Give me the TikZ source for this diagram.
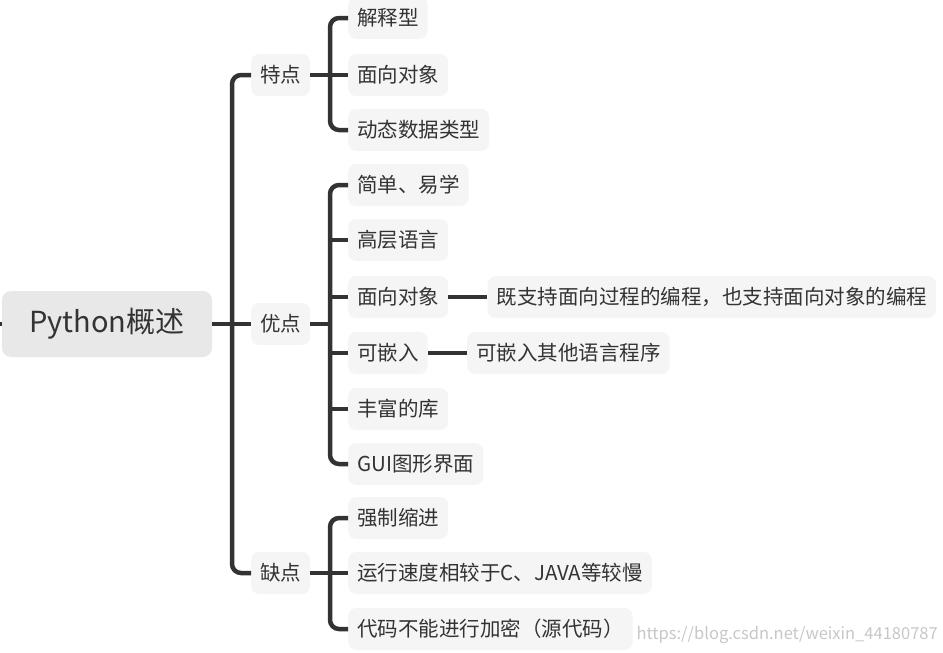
\documentclass[tikz,border=0pt]{standalone}
\usepackage{fontspec}
\setmainfont{Noto Sans CJK SC}
\usetikzlibrary{positioning, calc}
\definecolor{mmline}{RGB}{51, 51, 51}
\definecolor{mmbox}{RGB}{245, 245, 245}
\definecolor{mmroot}{RGB}{232, 232, 232}
\definecolor{mmtext}{RGB}{51, 51, 51}

\begin{document}
\begin{tikzpicture}[x=1pt, y=-1pt,
  every node/.style={font=\fontsize{20.5}{24}\selectfont, text=mmtext},
  leaf/.style={fill=mmbox, rounded corners=8pt, minimum height=42pt, inner xsep=9pt, anchor=west},
  link/.style={draw=mmline, line width=4.5pt, rounded corners=9pt}]
\useasboundingbox (0,0) rectangle (943,653);
\node[fill=mmroot, rounded corners=9pt, minimum width=210pt, minimum height=66pt, font=\fontsize{29}{34}\selectfont] (root) at (107,324) {Python概述};
\coordinate (edge) at (0,324);
% first level
\node[leaf] (te) at (251,75) {特点};
\node[leaf] (you) at (251,324) {优点};
\node[leaf] (que) at (251,573) {缺点};
\coordinate (j0) at (232,324);
% 特点
\node[leaf] (te1) at (348,18) {解释型};
\node[leaf] (te2) at (348,75) {面向对象};
\node[leaf] (te3) at (348,130) {动态数据类型};
\coordinate (j1) at (330,75);
% 优点
\node[leaf] (you1) at (348,185) {简单、易学};
\node[leaf] (you2) at (348,240) {高层语言};
\node[leaf] (you3) at (348,297) {面向对象};
\node[leaf] (you4) at (348,353) {可嵌入};
\node[leaf] (you5) at (348,409) {丰富的库};
\node[leaf] (you6) at (348,464) {GUI图形界面};
\node[leaf, right=39pt of you3.east, anchor=west] (you3a) {既支持面向过程的编程，也支持面向对象的编程};
\node[leaf, right=39pt of you4.east, anchor=west] (you4a) {可嵌入其他语言程序};
\coordinate (j2) at (330,324);
% 缺点
\node[leaf] (que1) at (348,518) {强制缩进};
\node[leaf] (que2) at (348,573) {运行速度相较于C、JAVA等较慢};
\node[leaf] (que3) at (348,629) {代码不能进行加密（源代码）};
\coordinate (j3) at (330,573);
\node[anchor=west, font=\fontsize{16.5}{18}\selectfont, text=black!22] (mark) at (633,635) {https://blog.csdn.net/weixin\_44180787};
% connectors
\draw[link] (edge) -- (root.west);
\draw[link] (root.east) -- (you.west);
\draw[link] (te.west) -| (j0) |- (que.west);
\draw[link] (te.east) -- (te2.west);
\draw[link] (te1.west) -| (j1) |- (te3.west);
\draw[link] (you.east) -- (j2);
\draw[link] (you1.west) -| (j2) |- (you6.west);
\draw[link] (you2.west) -- (you2.west -| j2);
\draw[link] (you3.west) -- (you3.west -| j2);
\draw[link] (you4.west) -- (you4.west -| j2);
\draw[link] (you5.west) -- (you5.west -| j2);
\draw[link] (you3.east) -- (you3a.west);
\draw[link] (you4.east) -- (you4a.west);
\draw[link] (que.east) -- (que2.west);
\draw[link] (que1.west) -| (j3) |- (que3.west);
\end{tikzpicture}
\end{document}
